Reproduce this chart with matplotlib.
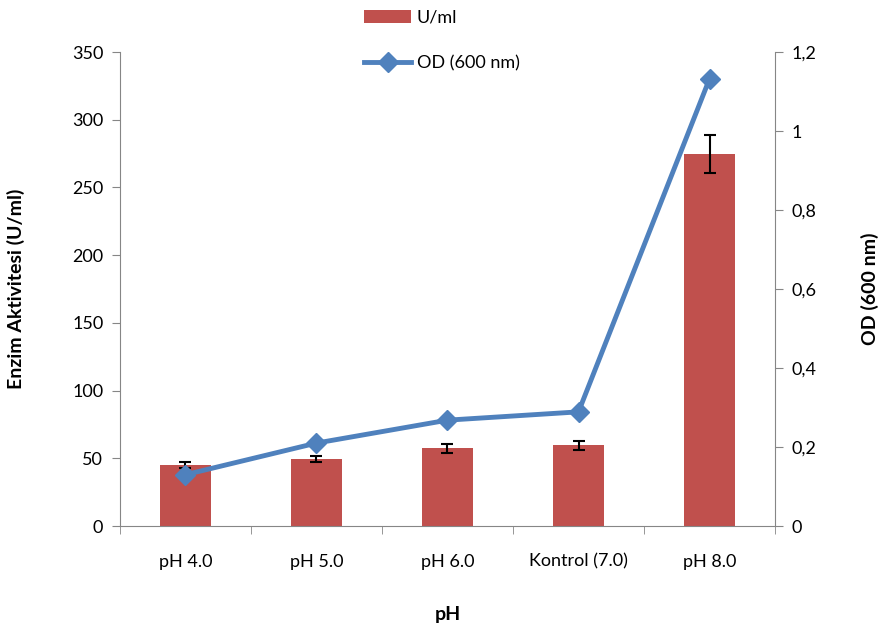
import numpy as np
import matplotlib.pyplot as plt

categories = ["pH 4.0", "pH 5.0", "pH 6.0", "Kontrol (7.0)", "pH 8.0"]
enzyme = [45, 49.5, 57.5, 59.5, 275]
enzyme_err = [2.3, 2.5, 3.3, 3.3, 14]
od = [0.13, 0.21, 0.268, 0.289, 1.132]

plt.rcParams['font.family'] = ['Lato', 'DejaVu Sans']
gray = '#868686'

fig = plt.figure(figsize=(8.79, 6.32), dpi=100)
ax = fig.add_axes([0.1365, 0.1677, 0.7452, 0.75])
x = np.arange(len(categories))

bars = ax.bar(x, enzyme, width=0.39, color='#C0504D', yerr=enzyme_err,
              error_kw=dict(ecolor='black', elinewidth=1.5, capsize=4, capthick=1.5),
              label='U/ml', zorder=2)
ax.set_xlim(-0.5, 4.5)
ax.set_ylim(0, 350)
ax.set_yticks(np.arange(0, 351, 50))
ax.set_xticks(x)
ax.set_xticklabels(categories)
ax.set_xticks(np.arange(-0.5, 4.6, 1), minor=True)
ax.tick_params(axis='x', which='major', length=0, pad=20, labelsize=13)
ax.tick_params(axis='x', which='minor', length=6, color=gray, direction='out')
ax.tick_params(axis='y', length=6, color=gray, labelsize=13, pad=6)
ax.set_ylabel('Enzim Aktivitesi (U/ml)', fontsize=14, fontweight='bold', labelpad=34)
ax.set_xlabel('pH', fontsize=14, fontweight='bold', labelpad=26)
for s in ['top', 'right']:
    ax.spines[s].set_visible(False)
for s in ['left', 'bottom']:
    ax.spines[s].set_color(gray)

ax2 = ax.twinx()
line, = ax2.plot(x, od, color='#4F81BD', lw=3.5, marker='D', markersize=10,
                 label='OD (600 nm)', zorder=3)
ax2.set_ylim(0, 1.2)
ax2.set_yticks(np.arange(0, 1.21, 0.2))
ax2.set_yticklabels(['0', '0,2', '0,4', '0,6', '0,8', '1', '1,2'])
ax2.tick_params(axis='y', length=6, color=gray, labelsize=13, pad=6)
ax2.set_ylabel('OD (600 nm)', fontsize=14, fontweight='bold', labelpad=32)
for s in ['top', 'left', 'bottom']:
    ax2.spines[s].set_visible(False)
ax2.spines['right'].set_color(gray)

fig.legend([bars, line], ['U/ml', 'OD (600 nm)'], loc='upper left',
           bbox_to_anchor=(0.396, 1.01), ncol=1, frameon=False, fontsize=13,
           handlelength=2.6, handletextpad=0.3, labelspacing=1.6)

fig.savefig('out.png', dpi=100)
